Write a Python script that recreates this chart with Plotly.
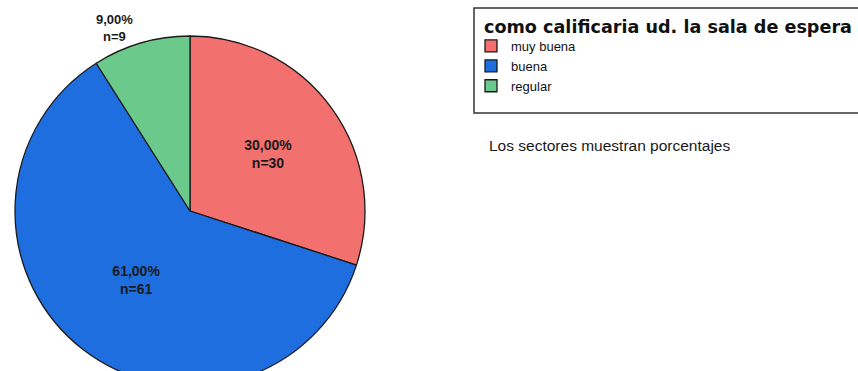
import plotly.graph_objects as go

# Survey answers: "como calificaria ud. la sala de espera"
categories = ["muy buena", "buena", "regular"]
counts = [30, 61, 9]
colors = ["#F2706E", "#1F6EE0", "#6CC98C"]
legend_title = "como calificaria ud. la sala de espera"
footnote = "Los sectores muestran porcentajes"

total = sum(counts)
labels_text = [
    f"{c / total * 100:.2f}%".replace(".", ",") + f"<br>n={c}" for c in counts
]

W, H = 858, 390  # page is taller than the window so the pie runs off the bottom edge


def px_x(x):
    return x / W


def px_y(y):
    return (H - y) / H


cx, cy, r = 190, 211, 175

fig = go.Figure(
    go.Pie(
        labels=categories,
        values=counts,
        text=labels_text,
        textinfo="text",
        textposition=["inside", "inside", "outside"],
        insidetextorientation="horizontal",
        sort=False,
        direction="clockwise",
        rotation=0,
        marker=dict(colors=colors, line=dict(color="#1a1a1a", width=1.3)),
        textfont=dict(family="Liberation Sans", size=14, color="#1a1a1a", weight="bold"),
        outsidetextfont=dict(family="Liberation Sans", size=13, color="#1a1a1a", weight="bold"),
        domain=dict(x=[px_x(cx - r), px_x(cx + r)], y=[px_y(cy + r), px_y(cy - r)]),
        hoverinfo="label+percent",
    )
)

fig.update_layout(
    width=W,
    height=H,
    margin=dict(l=0, r=0, t=0, b=0),
    paper_bgcolor="white",
    plot_bgcolor="white",
    showlegend=True,
    legend=dict(
        x=px_x(471),
        y=px_y(31),
        xanchor="left",
        yanchor="top",
        bgcolor="rgba(0,0,0,0)",
        borderwidth=0,
        font=dict(family="Liberation Sans", size=13, color="#111111"),
        tracegroupgap=0,
    ),
    shapes=[
        dict(
            type="rect",
            xref="paper",
            yref="paper",
            x0=px_x(474),
            x1=px_x(870),
            y0=px_y(113),
            y1=px_y(8),
            line=dict(color="#333333", width=1.5),
            fillcolor="rgba(0,0,0,0)",
        )
    ],
    annotations=[
        dict(
            text=legend_title,
            xref="paper",
            yref="paper",
            x=px_x(482),
            y=px_y(27),
            xanchor="left",
            yanchor="middle",
            showarrow=False,
            font=dict(family="DejaVu Sans", size=17.6, color="#111111", weight="bold"),
        ),
        dict(
            text=footnote,
            xref="paper",
            yref="paper",
            x=px_x(487),
            y=px_y(145),
            xanchor="left",
            yanchor="middle",
            showarrow=False,
            font=dict(family="Liberation Sans", size=15.5, color="#1a1a1a"),
        ),
    ],
)

fig.write_html(
    "out.html",
    post_script="document.documentElement.style.overflow='hidden';document.body.style.overflow='hidden';document.body.style.margin='0';",
)
